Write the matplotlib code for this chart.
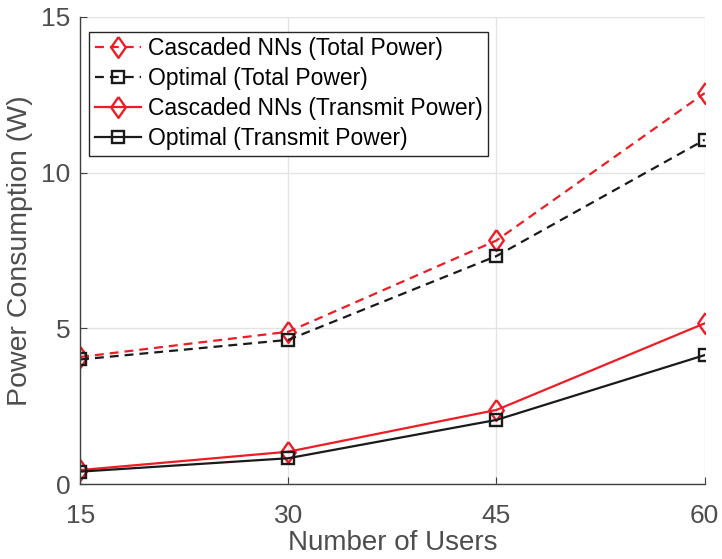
import matplotlib.pyplot as plt

# data
users = [15, 30, 45, 60]
nn_total = [4.08, 4.89, 7.82, 12.55]
opt_total = [4.00, 4.63, 7.32, 11.05]
nn_transmit = [0.45, 1.04, 2.38, 5.16]
opt_transmit = [0.40, 0.83, 2.06, 4.14]

plt.rcParams['font.family'] = ['Liberation Sans', 'DejaVu Sans']

red = '#ee1c25'
black = '#1a1a1a'
# matlab style diamond, taller than it is wide
diamond = [(0, 1), (0.7, 0), (0, -1), (-0.7, 0), (0, 1)]

fig = plt.figure(figsize=(7.22, 5.59), dpi=100)
ax = fig.add_axes([0.111, 0.134, 0.865, 0.836])

ax.plot(users, nn_total, '--', color=red, lw=1.6, marker=diamond, ms=15,
        mfc='none', mew=1.7, dashes=(4, 2.7), label='Cascaded NNs (Total Power)')
ax.plot(users, opt_total, '--', color=black, lw=1.6, marker='s', ms=9,
        mfc='none', mew=1.7, dashes=(4, 2.7), label='Optimal (Total Power)')
ax.plot(users, nn_transmit, '-', color=red, lw=1.6, marker=diamond, ms=15,
        mfc='none', mew=1.7, label='Cascaded NNs (Transmit Power)')
ax.plot(users, opt_transmit, '-', color=black, lw=1.6, marker='s', ms=9,
        mfc='none', mew=1.7, label='Optimal (Transmit Power)')

ax.set_xlim(15, 60)
ax.set_ylim(0, 15)
ax.set_xticks(users)
ax.set_yticks([0, 5, 10, 15])
ax.grid(True, color='#e3e3e3', lw=1)
ax.set_axisbelow(True)

for s in ['top', 'right']:
    ax.spines[s].set_visible(False)
for s in ['left', 'bottom']:
    ax.spines[s].set_color('#404040')
    ax.spines[s].set_linewidth(1)

ax.tick_params(direction='in', length=5, colors='#404040', labelsize=19,
               labelcolor='#4d4d4d')
ax.tick_params(axis='x', pad=14)
ax.tick_params(axis='y', pad=7)
ax.set_xlabel('Number of Users', fontsize=20, color='#4d4d4d', labelpad=2)
ax.set_ylabel('Power Consumption (W)', fontsize=20.5, color='#4d4d4d', labelpad=6)

leg = ax.legend(loc='upper left', bbox_to_anchor=(0.0144, 0.968), fontsize=16.5,
                frameon=True, fancybox=False, handlelength=2.0,
                handletextpad=0.3, borderpad=0.25, labelspacing=0.3,
                borderaxespad=0)
leg.get_frame().set_edgecolor('#262626')
leg.get_frame().set_linewidth(1)
leg.get_frame().set_alpha(1)

plt.savefig('out.png', dpi=100)
